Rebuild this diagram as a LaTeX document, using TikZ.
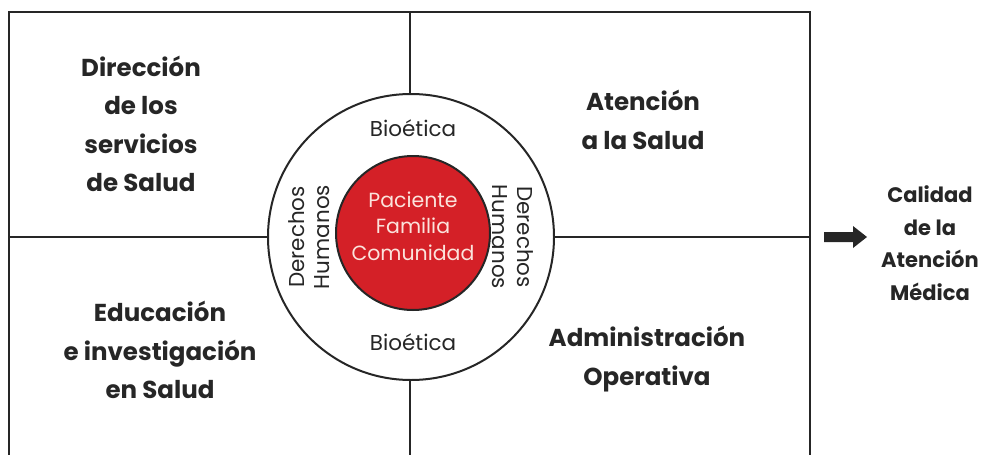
\documentclass[tikz,border=0pt]{standalone}
\usepackage{fontspec}
\setmainfont{Poppins}
\definecolor{ink}{HTML}{262626}
\definecolor{redc}{HTML}{D42027}
\definecolor{pinktxt}{HTML}{FBE3DC}
\begin{document}
\begin{tikzpicture}[x=1pt,y=-1pt,
  frame/.style={draw=ink,line width=2pt},
  areatxt/.style={text=ink,font=\bfseries\fontsize{24.5}{38.5}\selectfont,align=center,inner sep=0pt},
  ringtxt/.style={text=ink,font=\fontsize{21.5}{25.5}\selectfont,align=center,inner sep=0pt},
  coretxt/.style={text=pinktxt,font=\fontsize{20.5}{26.5}\selectfont,align=center,inner sep=0pt},
  resulttxt/.style={text=ink,font=\bfseries\fontsize{21}{32.5}\selectfont,align=center,inner sep=0pt},
  blockarrow/.style={fill=ink}]
\useasboundingbox (0,0) rectangle (986,455);
% frame and cross lines
\draw[frame] (9,470) -- (9,12) -- (810,12) -- (810,470);
\draw[frame] (410,12) -- (410,470);
\draw[frame] (9,237) -- (810,237);
% rings
\node[circle,draw=ink,line width=2pt,fill=white,minimum size=286pt,inner sep=0pt] (ring) at (411,237) {};
\node[circle,draw=ink,line width=2pt,fill=redc,minimum size=154pt,inner sep=0pt] (core) at (413,233) {};
% area labels
\node[areatxt] (dir) at (141,124) {Dirección\\de los\\servicios\\de Salud};
\node[areatxt] (aten) at (643,120) {Atención\\a la Salud};
\node[areatxt] (edu) at (160,350) {Educación\\e investigación\\en Salud};
\node[areatxt] (adm) at (647,359) {Administración\\Operativa};
% ring labels
\node[ringtxt] (bioT) at (413,128) {Bioética};
\node[ringtxt] (bioB) at (413,342) {Bioética};
\node[ringtxt,rotate=90] (dhL) at (309,237) {Derechos\\Humanos};
\node[ringtxt,rotate=-90] (dhR) at (513,237) {Derechos\\Humanos};
% core label
\node[coretxt] (pfc) at (413,226) {Paciente\\Familia\\Comunidad};
% arrow and result
\coordinate (arrS) at (824,237);
\coordinate (arrT) at (867,237);
\fill[blockarrow] ([yshift=5pt]arrS) -- ++(29,0) -- ++(0,-6) -- (arrT) -- ++(-14,11) -- ++(0,-6) -- ++(-29,0) -- cycle;
\node[resulttxt] (cal) at (930,243) {Calidad\\de la\\Atención\\Médica};
\end{tikzpicture}
\end{document}
